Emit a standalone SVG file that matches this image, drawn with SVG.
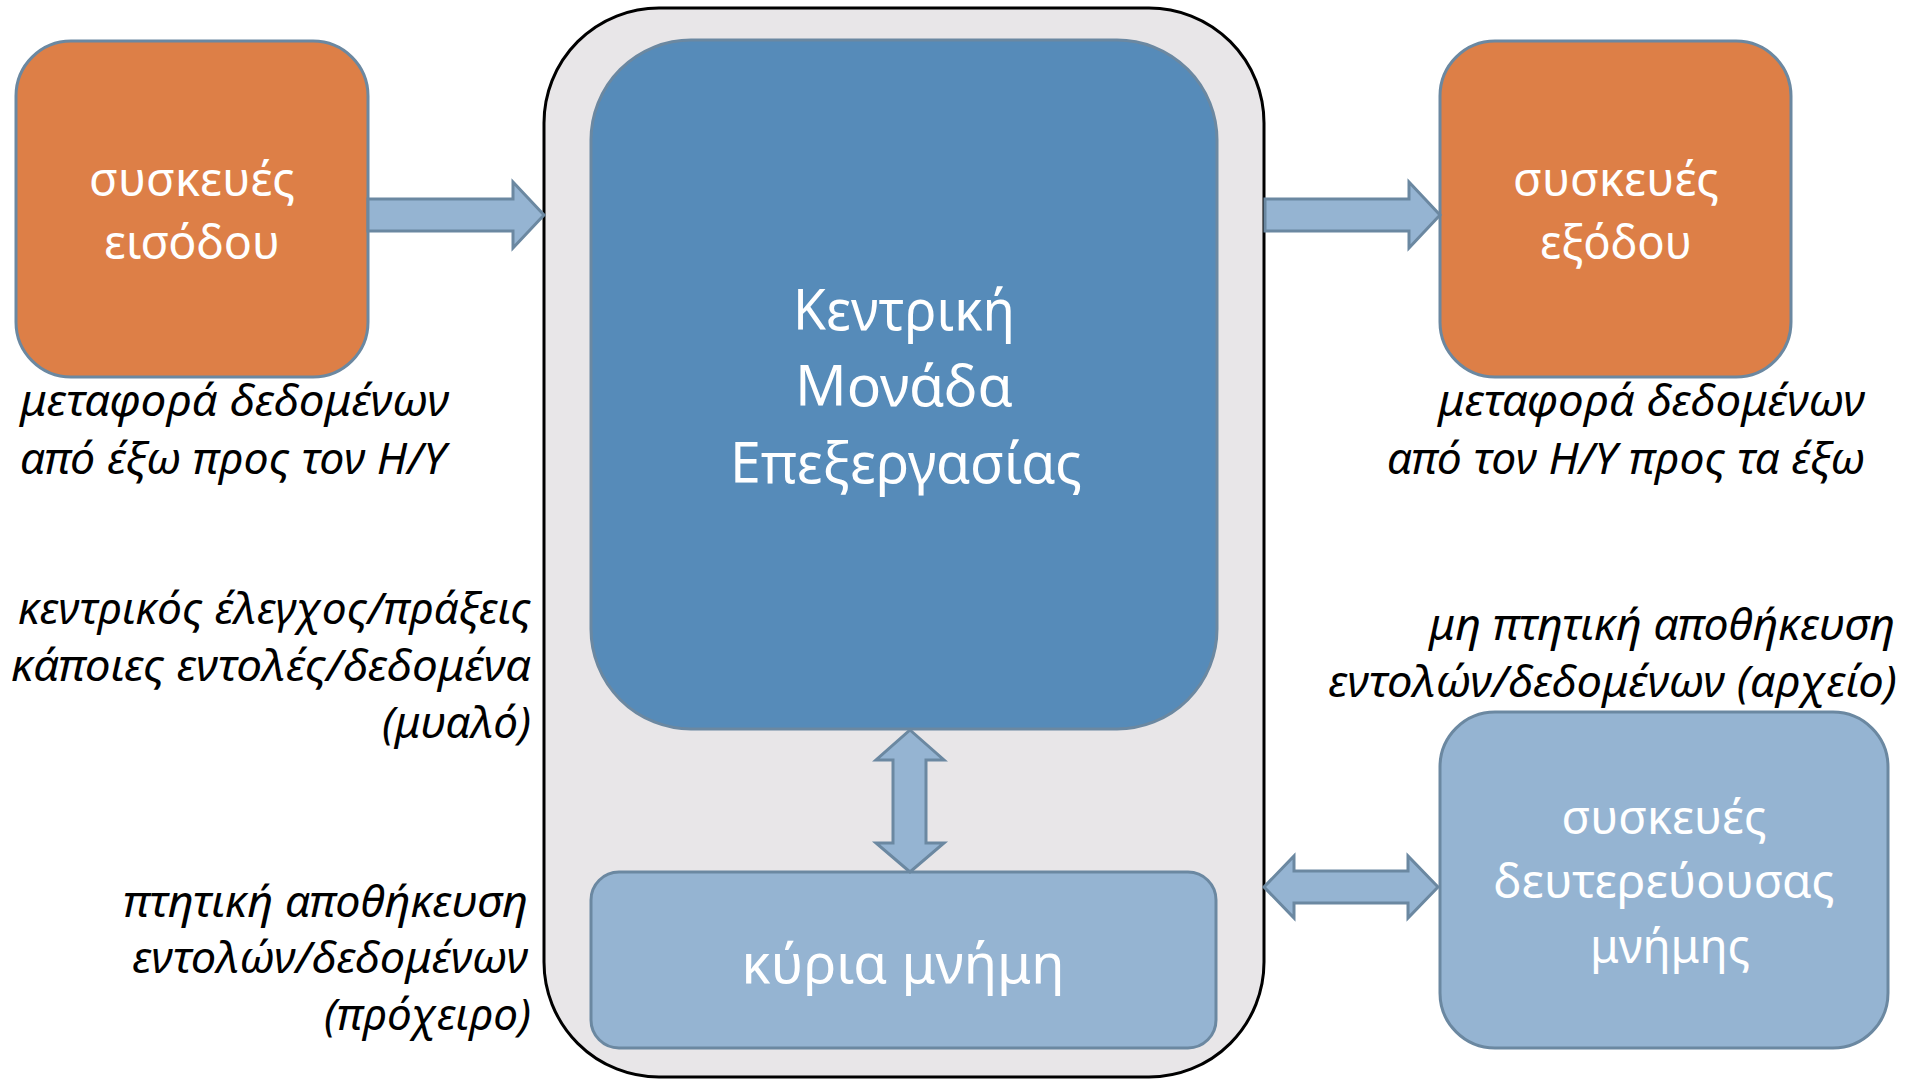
<svg xmlns="http://www.w3.org/2000/svg" width="1905" height="1080" viewBox="0 0 1905 1080">
<defs>
<style>
.orange{fill:#DD7F47;stroke:#6B88A1;stroke-width:3}
.cpu{fill:#568BB9;stroke:#6B88A1;stroke-width:3}
.light{fill:#95B4D2;stroke:#6B88A1;stroke-width:3}
.arrow{fill:#95B4D2;stroke:#6B88A1;stroke-width:3;stroke-linejoin:miter}
.wt{font-family:"Noto Sans","Open Sans",sans-serif;fill:#FFFFFF;text-anchor:middle}
.lbl{font-family:"Noto Sans","Open Sans",sans-serif;font-style:italic;font-size:44px;fill:#000000}
</style>
</defs>
<rect x="0" y="0" width="1905" height="1080" fill="#FFFFFF"/>
<g id="container">
<rect x="544" y="8" width="720" height="1069" rx="115" ry="115" fill="#E8E6E8" stroke="#000000" stroke-width="3"/>
</g>
<g id="input">
<rect class="orange" x="16" y="41" width="352" height="336" rx="55" ry="55"/>
<text class="wt" font-size="48" x="192" y="196" textLength="206" lengthAdjust="spacingAndGlyphs">συσκευές</text>
<text class="wt" font-size="48" x="192" y="259" textLength="176" lengthAdjust="spacingAndGlyphs">εισόδου</text>
</g>
<g id="output">
<rect class="orange" x="1440" y="41" width="351" height="336" rx="55" ry="55"/>
<text class="wt" font-size="48" x="1616" y="196" textLength="206" lengthAdjust="spacingAndGlyphs">συσκευές</text>
<text class="wt" font-size="48" x="1616" y="259" textLength="152" lengthAdjust="spacingAndGlyphs">εξόδου</text>
</g>
<g id="cpu">
<rect class="cpu" x="591" y="40" width="626" height="689" rx="100" ry="100"/>
<text class="wt" font-size="56" x="904" y="330" textLength="222" lengthAdjust="spacingAndGlyphs">Κεντρική</text>
<text class="wt" font-size="56" x="904" y="406" textLength="218" lengthAdjust="spacingAndGlyphs">Μονάδα</text>
<text class="wt" font-size="56" x="906" y="483" textLength="352" lengthAdjust="spacingAndGlyphs">Επεξεργασίας</text>
</g>
<g id="main-memory">
<rect class="light" x="591" y="872" width="625" height="176" rx="28" ry="28"/>
<text class="wt" font-size="55" x="903" y="983" textLength="323" lengthAdjust="spacingAndGlyphs">κύρια μνήμη</text>
</g>
<g id="secondary">
<rect class="light" x="1440" y="712" width="448" height="336" rx="55" ry="55"/>
<text class="wt" font-size="48" x="1664" y="834" textLength="205" lengthAdjust="spacingAndGlyphs">συσκευές</text>
<text class="wt" font-size="48" x="1664" y="898" textLength="341" lengthAdjust="spacingAndGlyphs">δευτερεύουσας</text>
<text class="wt" font-size="48" x="1670" y="963" textLength="160" lengthAdjust="spacingAndGlyphs">μνήμης</text>
</g>
<g id="connectors">
<polygon class="arrow" points="368,199 513,199 513,182 544,215 513,248 513,231 368,231"/>
<polygon class="arrow" points="1265,199 1409,199 1409,182 1440,215 1409,248 1409,231 1265,231"/>
<polygon class="arrow" points="1264,887 1294,856 1294,871 1408,871 1408,856 1438,887 1408,918 1408,903 1294,903 1294,918"/>
<polygon class="arrow" points="910,730 944,760 926,760 926,843 944,843 910,872 876,843 893,843 893,760 876,760"/>
</g>
<g id="labels">
<text class="lbl" x="20" y="416" textLength="429" lengthAdjust="spacingAndGlyphs">μεταφορά δεδομένων</text>
<text class="lbl" x="20" y="474" textLength="426" lengthAdjust="spacingAndGlyphs">από έξω προς τον Η/Υ</text>
<text class="lbl" x="1438" y="416" textLength="427" lengthAdjust="spacingAndGlyphs">μεταφορά δεδομένων</text>
<text class="lbl" x="1387" y="474" textLength="478" lengthAdjust="spacingAndGlyphs">από τον Η/Υ προς τα έξω</text>
<text class="lbl" x="18" y="624" textLength="513" lengthAdjust="spacingAndGlyphs">κεντρικός έλεγχος/πράξεις</text>
<text class="lbl" x="11" y="681" textLength="520" lengthAdjust="spacingAndGlyphs">κάποιες εντολές/δεδομένα</text>
<text class="lbl" x="382" y="738" textLength="149" lengthAdjust="spacingAndGlyphs">(μυαλό)</text>
<text class="lbl" x="123" y="917" textLength="405" lengthAdjust="spacingAndGlyphs">πτητική αποθήκευση</text>
<text class="lbl" x="132" y="973" textLength="396" lengthAdjust="spacingAndGlyphs">εντολών/δεδομένων</text>
<text class="lbl" x="324" y="1030" textLength="207" lengthAdjust="spacingAndGlyphs">(πρόχειρο)</text>
<text class="lbl" x="1429" y="640" textLength="466" lengthAdjust="spacingAndGlyphs">μη πτητική αποθήκευση</text>
<text class="lbl" x="1328" y="697" textLength="569" lengthAdjust="spacingAndGlyphs">εντολών/δεδομένων (αρχείο)</text>
</g>
</svg>
